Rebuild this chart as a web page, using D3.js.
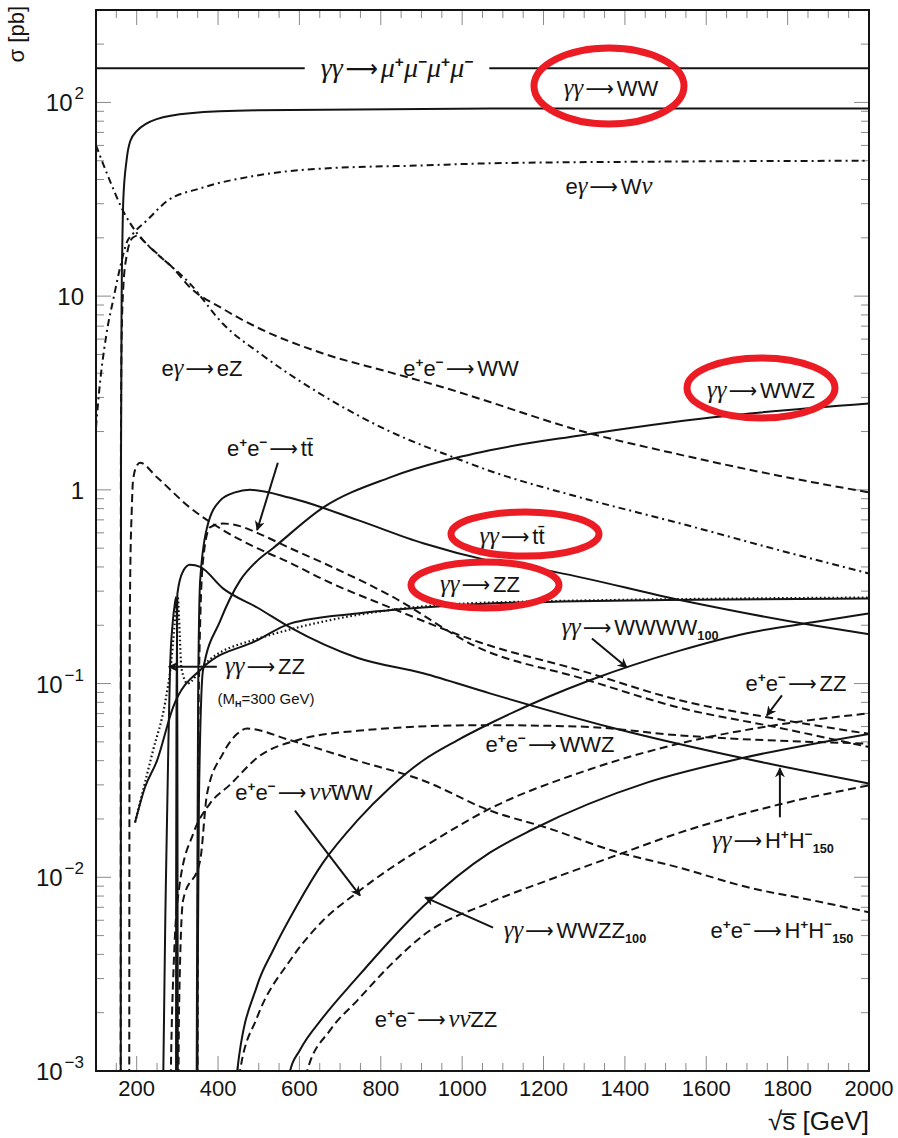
<!DOCTYPE html>
<html>
<head>
<meta charset="utf-8">
<script src="https://cdn.jsdelivr.net/npm/d3@7"></script>
<style>
  html, body { margin: 0; padding: 0; background: #fff; }
  svg { display: block; }
</style>
</head>
<body>
<svg id="chart" width="898" height="1138"></svg>
<script>
// ---- axis definition ----
const xTickValues = [200, 400, 600, 800, 1000, 1200, 1400, 1600, 1800, 2000];
const yTickValues = [1e-3, 1e-2, 1e-1, 1, 10, 100];
const yTickLabels = [["10", "−3"], ["10", "−2"], ["10", "−1"], ["1", ""], ["10", ""], ["10", "2"]];

// ---- cross sections, [sqrt(s) in GeV, sigma in pb] ----
// gamma-gamma processes (solid)
const ggMuMuMuMu = [[100, 150], [2000, 150]];
const ggWW = [[160.6, 1e-4], [161.5, 1.5], [163, 9.5], [165, 20], [167, 31], [175, 50], [184, 63],
  [200, 71], [225, 78], [249, 82], [331, 88], [495, 91], [1068, 93], [2000, 93]];
const ggWWZ = [[348, 1e-4], [350, 0.003], [353, 0.025], [363, 0.117], [405, 0.21], [454, 0.34], [496, 0.43],
  [535, 0.50], [658, 0.81], [823, 1.16], [1068, 1.6], [1290, 1.91], [1617, 2.37], [2000, 2.79]];
const ggTT = [[346, 1e-4], [348, 0.002], [351, 0.082], [356, 0.34], [373, 0.64], [405, 0.88], [442, 0.97],
  [478, 1.0], [577, 0.91], [742, 0.70], [904, 0.53], [1068, 0.43], [1233, 0.375], [1535, 0.27],
  [1862, 0.20], [2000, 0.18]];
const ggZZ = [[196, 0.0192], [220, 0.029], [250, 0.040], [289, 0.075], [363, 0.121], [496, 0.167],
  [577, 0.204], [742, 0.23], [904, 0.247], [1068, 0.259], [1500, 0.27], [2000, 0.275]];
const ggZZHiggs300 = [[196, 0.0192], [240, 0.045], [270, 0.08], [285, 0.13], [293, 0.2], [298, 0.27],
  [301, 0.28], [304, 0.22], [310, 0.12], [325, 0.1], [363, 0.124], [496, 0.17], [1068, 0.262], [2000, 0.278]];
const ggHiggsPeak300 = [[262, 1e-4], [265.5, 1e-3], [272, 0.01], [278, 0.05], [282, 0.12], [288, 0.2],
  [294, 0.26], [297, 0.28], [299, 0.2], [300, 0.05], [301, 1e-3], [302, 1e-4]];
const ggHpHm150 = [[296.5, 1e-4], [297, 0.01], [298, 0.09], [300, 0.29], [314, 0.38], [331, 0.41],
  [356, 0.40], [412, 0.31], [496, 0.247], [577, 0.195], [742, 0.136], [904, 0.113], [1068, 0.089],
  [1371, 0.059], [1683, 0.0415], [2000, 0.0305]];
const ggWWWW100 = [[430, 3e-4], [447, 1e-3], [496, 0.00276], [535, 0.00419], [594, 0.00715], [658, 0.0119],
  [742, 0.0196], [823, 0.0291], [904, 0.0401], [987, 0.0508], [1068, 0.0622], [1314, 0.104], [1535, 0.148],
  [1700, 0.182], [1862, 0.207], [2000, 0.23]];
const ggWWZZ100 = [[560, 5e-4], [577, 1e-3], [601, 0.00128], [658, 0.00189], [742, 0.00304], [823, 0.00472],
  [904, 0.00706], [1068, 0.0134], [1174, 0.0177], [1454, 0.0308], [1683, 0.041], [2000, 0.055]];

// e+e- processes (dashed)
const eeWW = [[160.6, 1e-4], [161.2, 1.5], [163, 6], [167, 11], [175, 16], [190, 20], [205, 20.6],
  [216, 19.4], [250, 16.5], [289, 14], [331, 11.1], [412, 8.6], [496, 6.9], [658, 5.06], [823, 4.04],
  [987, 3.22], [1044, 2.95], [1290, 2.02], [1535, 1.52], [1781, 1.18], [2000, 0.97]];
const eeZZ = [[181.5, 1e-4], [182.5, 0.08], [184, 0.34], [188, 0.8], [191, 1.12], [201, 1.34], [208, 1.38],
  [250, 1.16], [331, 0.81], [412, 0.62], [496, 0.50], [577, 0.42], [658, 0.345], [823, 0.247],
  [1044, 0.163], [1290, 0.117], [1535, 0.082], [1750, 0.067], [2000, 0.055]];
const eeTT = [[349, 1e-4], [350.5, 0.01], [353, 0.1], [363, 0.43], [380, 0.64], [412, 0.67], [454, 0.65],
  [496, 0.60], [577, 0.50], [658, 0.42], [823, 0.285], [1044, 0.152], [1290, 0.107], [1535, 0.075],
  [1781, 0.059], [2000, 0.047]];
const eeWWZ = [[278, 1e-4], [284, 0.001], [292, 0.004], [305, 0.009], [340, 0.017], [380, 0.024],
  [429, 0.030], [500, 0.042], [594, 0.051], [742, 0.057], [1044, 0.061], [1290, 0.060], [1535, 0.054],
  [2000, 0.049]];
const eeHpHm150 = [[301, 1e-4], [304, 0.002], [314, 0.0076], [356, 0.0122], [373, 0.027], [412, 0.0435],
  [447, 0.055], [471, 0.0586], [577, 0.051], [742, 0.040], [904, 0.0316], [1068, 0.0221], [1209, 0.018],
  [1371, 0.0137], [1535, 0.0112], [1700, 0.0089], [1862, 0.0076], [2000, 0.0066]];
const eeNuNuWW = [[440, 1e-4], [454, 1e-3], [496, 0.00189], [577, 0.00372], [658, 0.00598], [742, 0.00835],
  [823, 0.0111], [904, 0.01425], [1068, 0.0226], [1290, 0.0347], [1535, 0.0491], [1781, 0.0615], [2000, 0.0702]];
const eeNuNuZZ = [[600, 1e-4], [619, 1e-3], [675, 0.00162], [742, 0.00231], [823, 0.00351], [904, 0.00501],
  [1068, 0.00741], [1209, 0.00962], [1371, 0.0128], [1535, 0.0170], [1781, 0.0238], [2000, 0.0298]];

// e-gamma processes (dash-dotted)
const egWNu = [[100, 2.1], [110, 3.6], [120, 5.3], [130, 7.2], [142, 9.5], [159, 14], [176, 19], [191, 21],
  [225, 24.6], [275, 31], [356, 36], [496, 42], [658, 45.6], [904, 47.3], [1068, 48.5], [1500, 49.5],
  [2000, 50]];
const egEZ = [[100, 60], [134, 39.5], [166, 27.7], [201, 21.1], [250, 16.6], [331, 11.6], [412, 7.2],
  [510, 4.94], [658, 3.07], [823, 2.0], [987, 1.45], [1051, 1.29], [1290, 0.914], [1535, 0.672],
  [1781, 0.487], [2000, 0.37]];

// ---- layout ----
const svg = d3.select("#chart");
const plot = { left: 96, right: 869, top: 10, bottom: 1071 };
const x = d3.scaleLinear().domain([100, 2000]).range([plot.left, plot.right]);
const y = d3.scaleLog().domain([1e-3, 300]).range([plot.bottom, plot.top]);

const SANS = "'Liberation Sans', Arial, Helvetica, sans-serif";
const SERIF = "'Liberation Serif', 'Times New Roman', serif";
const INK = "#141414";

const defs = svg.append("defs");
defs.append("clipPath").attr("id", "plotClip")
  .append("rect").attr("x", plot.left).attr("y", plot.top)
  .attr("width", plot.right - plot.left).attr("height", plot.bottom - plot.top);
defs.append("marker").attr("id", "head").attr("viewBox", "0 0 10 10")
  .attr("refX", 9).attr("refY", 5).attr("markerWidth", 10).attr("markerHeight", 10)
  .attr("markerUnits", "userSpaceOnUse").attr("orient", "auto")
  .append("path").attr("d", "M0,0 L10,5 L0,10 L3,5 Z").attr("fill", INK);

// ---- ticks (inside, on all four sides) ----
const tickG = svg.append("g").attr("stroke", "#8a8a8a").attr("stroke-width", 1);
const xMinor = d3.range(150, 2000, 50).filter(v => v % 200 !== 0);
function vTick(v, len) {
  tickG.append("line").attr("x1", x(v)).attr("x2", x(v)).attr("y1", plot.bottom).attr("y2", plot.bottom - len);
  tickG.append("line").attr("x1", x(v)).attr("x2", x(v)).attr("y1", plot.top).attr("y2", plot.top + len);
}
function hTick(v, len) {
  tickG.append("line").attr("y1", y(v)).attr("y2", y(v)).attr("x1", plot.left).attr("x2", plot.left + len);
  tickG.append("line").attr("y1", y(v)).attr("y2", y(v)).attr("x1", plot.right).attr("x2", plot.right - len);
}
xTickValues.forEach(v => vTick(v, 15));
xMinor.forEach(v => vTick(v, 8));
const yMinor = [];
yTickValues.forEach(d => { for (let k = 2; k <= 9; k++) if (d * k <= 300) yMinor.push(d * k); });
yTickValues.forEach(v => hTick(v, 15));
yMinor.forEach(v => hTick(v, 8));

// ---- tick labels ----
const axisText = svg.append("g").attr("font-family", SANS).attr("fill", INK);
xTickValues.forEach(v => {
  axisText.append("text").attr("x", x(v)).attr("y", 1096).attr("text-anchor", "middle")
    .attr("font-size", 22).text(v);
});
yTickValues.forEach((v, i) => {
  const [base, exp] = yTickLabels[i];
  const t = axisText.append("text").attr("x", 84).attr("y", y(v) + 9).attr("text-anchor", "end")
    .attr("font-size", 24);
  t.append("tspan").text(base);
  if (exp) t.append("tspan").attr("font-size", 17).attr("dy", -12).attr("dx", 2).text(exp);
});
axisText.append("text").attr("transform", "translate(24,6) rotate(-90)")
  .attr("text-anchor", "end").attr("font-size", 22).text("σ [pb]");
axisText.append("text").attr("x", 869).attr("y", 1130).attr("text-anchor", "end")
  .attr("font-size", 26).text("√s\u0305 [GeV]");

// ---- curves ----
const line = d3.line()
  .x(d => x(d[0]))
  .y(d => y(Math.max(d[1], 1e-6)))
  .curve(d3.curveMonotoneX);

const DASH = "8,4.5", DASHDOT = "7,4,2,4", DOT = "1.6,2.6";
const curves = [
  { data: ggMuMuMuMu, dash: null },
  { data: ggWW, dash: null },
  { data: ggWWZ, dash: null },
  { data: ggTT, dash: null },
  { data: ggZZ, dash: null },
  { data: ggZZHiggs300, dash: DOT },
  { data: ggHiggsPeak300, dash: null },
  { data: ggHpHm150, dash: null },
  { data: ggWWWW100, dash: null },
  { data: ggWWZZ100, dash: null },
  { data: eeWW, dash: DASH },
  { data: eeZZ, dash: DASH },
  { data: eeTT, dash: DASH },
  { data: eeWWZ, dash: DASH },
  { data: eeHpHm150, dash: DASH },
  { data: eeNuNuWW, dash: DASH },
  { data: eeNuNuZZ, dash: DASH },
  { data: egWNu, dash: DASHDOT },
  { data: egEZ, dash: DASHDOT }
];
const curveG = svg.append("g").attr("clip-path", "url(#plotClip)");
curves.forEach(c => {
  curveG.append("path").attr("d", line(c.data)).attr("fill", "none")
    .attr("stroke", INK).attr("stroke-width", c.dash === DOT ? 2.2 : 2)
    .attr("stroke-dasharray", c.dash);
});

// ---- frame ----
svg.append("rect").attr("x", plot.left).attr("y", plot.top)
  .attr("width", plot.right - plot.left).attr("height", plot.bottom - plot.top)
  .attr("fill", "none").attr("stroke", INK).attr("stroke-width", 2);

// ---- process labels ----
function richLabel(parent, parts, px, py, size) {
  const t = parent.append("text").attr("x", px).attr("y", py)
    .attr("text-anchor", "middle").attr("font-size", size).attr("fill", INK)
    .attr("font-family", SANS);
  let shift = 0, afterArrow = false;
  parts.forEach(([s, k]) => {
    const sp = t.append("tspan").text(s);
    let target = 0;
    if (k === "g") {
      sp.attr("font-family", SERIF).attr("font-style", "italic").attr("font-size", size * 1.12);
    } else if (k === "a") {
      sp.attr("font-family", "'DejaVu Sans', sans-serif").attr("font-size", size)
        .attr("textLength", size * 1.3).attr("lengthAdjust", "spacingAndGlyphs")
        .attr("dx", size * 0.1);
    } else if (k === "p") {
      sp.attr("font-size", size * 0.62).attr("font-weight", "bold");
      target = -size * 0.42;
    } else if (k === "b") {
      sp.attr("font-size", size * 0.58).attr("font-weight", "bold");
      target = size * 0.22;
    }
    if (afterArrow) sp.attr("dx", size * 0.12);
    sp.attr("dy", target - shift);
    shift = target;
    afterArrow = (k === "a");
  });
  return t;
}

const GG = ["γγ", "g"], ARW = ["⟶", "a"];
const EE = [["e", "r"], ["+", "p"], ["e", "r"], ["−", "p"]];
const labelG = svg.append("g");
const LABEL_SIZE = 22;

const labels = [
  { parts: [GG, ARW, ["μ", "g"], ["+", "p"], ["μ", "g"], ["−", "p"], ["μ", "g"], ["+", "p"], ["μ", "g"], ["−", "p"]], x: 397, y: 77, blank: true, size: 25 },
  { parts: [GG, ARW, ["WW", "r"]], x: 611, y: 96 },
  { parts: [["e", "r"], ["γ", "g"], ARW, ["W", "r"], ["ν", "g"]], x: 609, y: 194 },
  { parts: [["e", "r"], ["γ", "g"], ARW, ["eZ", "r"]], x: 202, y: 376 },
  { parts: [...EE, ARW, ["WW", "r"]], x: 461, y: 376 },
  { parts: [GG, ARW, ["WWZ", "r"]], x: 761, y: 398 },
  { parts: [...EE, ARW, ["tt\u0304", "r"]], x: 270, y: 456 },
  { parts: [GG, ARW, ["tt\u0304", "r"]], x: 512, y: 544 },
  { parts: [GG, ARW, ["ZZ", "r"]], x: 480, y: 592 },
  { parts: [GG, ARW, ["WWWW", "r"], ["100", "b"]], x: 640, y: 635 },
  { parts: [GG, ARW, ["ZZ", "r"]], x: 265, y: 674 },
  { parts: [...EE, ARW, ["ZZ", "r"]], x: 796, y: 691 },
  { parts: [...EE, ARW, ["WWZ", "r"]], x: 550, y: 752 },
  { parts: [...EE, ARW, ["ν", "g"], ["ν\u0304", "g"], ["WW", "r"]], x: 304, y: 800 },
  { parts: [GG, ARW, ["H", "r"], ["+", "p"], ["H", "r"], ["−", "p"], ["150", "b"]], x: 773, y: 848 },
  { parts: [GG, ARW, ["WWZZ", "r"], ["100", "b"]], x: 575, y: 938 },
  { parts: [...EE, ARW, ["H", "r"], ["+", "p"], ["H", "r"], ["−", "p"], ["150", "b"]], x: 782, y: 938 },
  { parts: [...EE, ARW, ["ν", "g"], ["ν\u0304", "g"], ["ZZ", "r"]], x: 436, y: 1027 }
];

labels.forEach(l => {
  const t = richLabel(labelG, l.parts, l.x, l.y, l.size || LABEL_SIZE);
  if (l.blank) {
    const b = t.node().getBBox();
    labelG.insert("rect", "text").attr("x", b.x - 16).attr("y", b.y - 2)
      .attr("width", b.width + 32).attr("height", b.height + 4).attr("fill", "#fff");
  }
});

// small note under the Higgs ZZ label
const mh = labelG.append("text").attr("x", 266).attr("y", 704).attr("text-anchor", "middle")
  .attr("font-family", SANS).attr("font-size", 15).attr("fill", INK);
mh.append("tspan").text("(M");
mh.append("tspan").attr("font-size", 9).attr("font-weight", "bold").attr("dy", 3).text("H");
mh.append("tspan").attr("dy", -3).text("=300 GeV)");

// ---- pointer arrows, ends given as [sqrt(s) GeV, sigma pb] ----
const pointers = [
  { from: [547, 1.38], to: [496, 0.62] },
  { from: [397, 0.122], to: [279, 0.122] },
  { from: [1319, 0.171], to: [1405, 0.121] },
  { from: [1786, 0.087], to: [1749, 0.0684] },
  { from: [1781, 0.0204], to: [1781, 0.0365] },
  { from: [589, 0.0221], to: [749, 0.00805] },
  { from: [1076, 0.0055], to: [909, 0.00787] }
];
pointers.forEach(p => {
  labelG.append("line")
    .attr("x1", x(p.from[0])).attr("y1", y(p.from[1]))
    .attr("x2", x(p.to[0])).attr("y2", y(p.to[1]))
    .attr("stroke", INK).attr("stroke-width", 2).attr("marker-end", "url(#head)");
});

// ---- highlight ellipses ----
const highlights = [
  { cx: 609, cy: 86, rx: 75, ry: 38 },
  { cx: 761, cy: 388, rx: 74, ry: 30 },
  { cx: 525, cy: 534, rx: 74, ry: 22 },
  { cx: 485, cy: 585, rx: 74, ry: 23 }
];
svg.append("g").selectAll("ellipse").data(highlights).join("ellipse")
  .attr("cx", d => d.cx).attr("cy", d => d.cy).attr("rx", d => d.rx).attr("ry", d => d.ry)
  .attr("fill", "none").attr("stroke", "#ec1c24").attr("stroke-width", 7);
</script>
</body>
</html>
